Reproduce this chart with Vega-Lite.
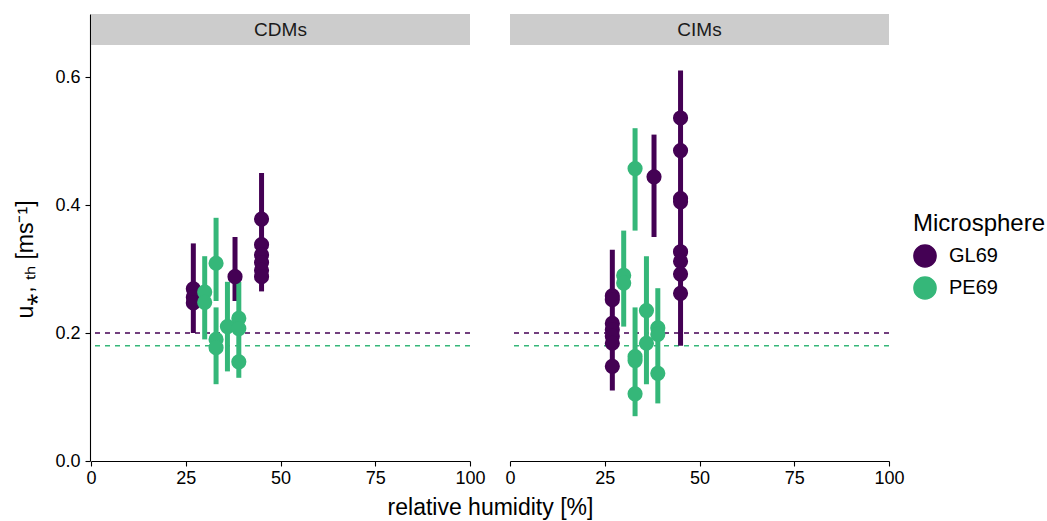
{
  "$schema": "https://vega.github.io/schema/vega-lite/v6.json",
  "background": "white",
  "padding": {"left": 14, "top": 14, "right": 0, "bottom": 0},
  "title": {"text": "relative humidity [%]", "orient": "bottom", "anchor": "middle", "fontSize": 23, "fontWeight": "normal", "font": "Liberation Sans", "color": "#000000", "offset": 10, "dx": -40},
  "datasets": {
    "all": [
      {"kind": "strip", "panel": "CDMs"},
      {"kind": "strip", "panel": "CIMs"},
      {"kind": "thr", "panel": "CDMs", "ms": "GL69", "u": 0.2},
      {"kind": "thr", "panel": "CDMs", "ms": "PE69", "u": 0.18},
      {"kind": "thr", "panel": "CIMs", "ms": "GL69", "u": 0.2},
      {"kind": "thr", "panel": "CIMs", "ms": "PE69", "u": 0.18},

      {"kind": "bar", "panel": "CDMs", "ms": "GL69", "rh": 27, "lo": 0.20, "hi": 0.34},
      {"kind": "bar", "panel": "CDMs", "ms": "GL69", "rh": 38, "lo": 0.25, "hi": 0.35},
      {"kind": "bar", "panel": "CDMs", "ms": "GL69", "rh": 45, "lo": 0.265, "hi": 0.45},
      {"kind": "bar", "panel": "CDMs", "ms": "PE69", "rh": 30, "lo": 0.19, "hi": 0.32},
      {"kind": "bar", "panel": "CDMs", "ms": "PE69", "rh": 33, "lo": 0.25, "hi": 0.38},
      {"kind": "bar", "panel": "CDMs", "ms": "PE69", "rh": 33, "lo": 0.12, "hi": 0.24},
      {"kind": "bar", "panel": "CDMs", "ms": "PE69", "rh": 36, "lo": 0.14, "hi": 0.28},
      {"kind": "bar", "panel": "CDMs", "ms": "PE69", "rh": 39, "lo": 0.13, "hi": 0.28},

      {"kind": "bar", "panel": "CIMs", "ms": "GL69", "rh": 27, "lo": 0.11, "hi": 0.33},
      {"kind": "bar", "panel": "CIMs", "ms": "GL69", "rh": 38, "lo": 0.35, "hi": 0.51},
      {"kind": "bar", "panel": "CIMs", "ms": "GL69", "rh": 45, "lo": 0.18, "hi": 0.61},
      {"kind": "bar", "panel": "CIMs", "ms": "PE69", "rh": 30, "lo": 0.21, "hi": 0.36},
      {"kind": "bar", "panel": "CIMs", "ms": "PE69", "rh": 33, "lo": 0.36, "hi": 0.52},
      {"kind": "bar", "panel": "CIMs", "ms": "PE69", "rh": 33, "lo": 0.07, "hi": 0.24},
      {"kind": "bar", "panel": "CIMs", "ms": "PE69", "rh": 36, "lo": 0.12, "hi": 0.32},
      {"kind": "bar", "panel": "CIMs", "ms": "PE69", "rh": 39, "lo": 0.09, "hi": 0.27},

      {"kind": "pt", "panel": "CDMs", "ms": "GL69", "rh": 27, "u": 0.269},
      {"kind": "pt", "panel": "CDMs", "ms": "GL69", "rh": 27, "u": 0.256},
      {"kind": "pt", "panel": "CDMs", "ms": "GL69", "rh": 27, "u": 0.247},
      {"kind": "pt", "panel": "CDMs", "ms": "GL69", "rh": 38, "u": 0.288},
      {"kind": "pt", "panel": "CDMs", "ms": "GL69", "rh": 45, "u": 0.378},
      {"kind": "pt", "panel": "CDMs", "ms": "GL69", "rh": 45, "u": 0.338},
      {"kind": "pt", "panel": "CDMs", "ms": "GL69", "rh": 45, "u": 0.322},
      {"kind": "pt", "panel": "CDMs", "ms": "GL69", "rh": 45, "u": 0.31},
      {"kind": "pt", "panel": "CDMs", "ms": "GL69", "rh": 45, "u": 0.298},
      {"kind": "pt", "panel": "CDMs", "ms": "GL69", "rh": 45, "u": 0.288},
      {"kind": "pt", "panel": "CDMs", "ms": "PE69", "rh": 30, "u": 0.264},
      {"kind": "pt", "panel": "CDMs", "ms": "PE69", "rh": 30, "u": 0.248},
      {"kind": "pt", "panel": "CDMs", "ms": "PE69", "rh": 33, "u": 0.309},
      {"kind": "pt", "panel": "CDMs", "ms": "PE69", "rh": 33, "u": 0.19},
      {"kind": "pt", "panel": "CDMs", "ms": "PE69", "rh": 33, "u": 0.177},
      {"kind": "pt", "panel": "CDMs", "ms": "PE69", "rh": 36, "u": 0.21},
      {"kind": "pt", "panel": "CDMs", "ms": "PE69", "rh": 39, "u": 0.223},
      {"kind": "pt", "panel": "CDMs", "ms": "PE69", "rh": 39, "u": 0.207},
      {"kind": "pt", "panel": "CDMs", "ms": "PE69", "rh": 39, "u": 0.155},

      {"kind": "pt", "panel": "CIMs", "ms": "GL69", "rh": 27, "u": 0.258},
      {"kind": "pt", "panel": "CIMs", "ms": "GL69", "rh": 27, "u": 0.252},
      {"kind": "pt", "panel": "CIMs", "ms": "GL69", "rh": 27, "u": 0.215},
      {"kind": "pt", "panel": "CIMs", "ms": "GL69", "rh": 27, "u": 0.205},
      {"kind": "pt", "panel": "CIMs", "ms": "GL69", "rh": 27, "u": 0.195},
      {"kind": "pt", "panel": "CIMs", "ms": "GL69", "rh": 27, "u": 0.184},
      {"kind": "pt", "panel": "CIMs", "ms": "GL69", "rh": 27, "u": 0.148},
      {"kind": "pt", "panel": "CIMs", "ms": "GL69", "rh": 38, "u": 0.444},
      {"kind": "pt", "panel": "CIMs", "ms": "GL69", "rh": 45, "u": 0.536},
      {"kind": "pt", "panel": "CIMs", "ms": "GL69", "rh": 45, "u": 0.485},
      {"kind": "pt", "panel": "CIMs", "ms": "GL69", "rh": 45, "u": 0.41},
      {"kind": "pt", "panel": "CIMs", "ms": "GL69", "rh": 45, "u": 0.405},
      {"kind": "pt", "panel": "CIMs", "ms": "GL69", "rh": 45, "u": 0.327},
      {"kind": "pt", "panel": "CIMs", "ms": "GL69", "rh": 45, "u": 0.312},
      {"kind": "pt", "panel": "CIMs", "ms": "GL69", "rh": 45, "u": 0.292},
      {"kind": "pt", "panel": "CIMs", "ms": "GL69", "rh": 45, "u": 0.262},
      {"kind": "pt", "panel": "CIMs", "ms": "PE69", "rh": 30, "u": 0.29},
      {"kind": "pt", "panel": "CIMs", "ms": "PE69", "rh": 30, "u": 0.278},
      {"kind": "pt", "panel": "CIMs", "ms": "PE69", "rh": 33, "u": 0.457},
      {"kind": "pt", "panel": "CIMs", "ms": "PE69", "rh": 33, "u": 0.163},
      {"kind": "pt", "panel": "CIMs", "ms": "PE69", "rh": 33, "u": 0.157},
      {"kind": "pt", "panel": "CIMs", "ms": "PE69", "rh": 33, "u": 0.105},
      {"kind": "pt", "panel": "CIMs", "ms": "PE69", "rh": 36, "u": 0.235},
      {"kind": "pt", "panel": "CIMs", "ms": "PE69", "rh": 36, "u": 0.184},
      {"kind": "pt", "panel": "CIMs", "ms": "PE69", "rh": 39, "u": 0.208},
      {"kind": "pt", "panel": "CIMs", "ms": "PE69", "rh": 39, "u": 0.198},
      {"kind": "pt", "panel": "CIMs", "ms": "PE69", "rh": 39, "u": 0.137}
    ]
  },
  "data": {"name": "all"},
  "facet": {
    "column": {"field": "panel", "type": "nominal", "sort": ["CDMs", "CIMs"], "header": {"title": null, "labels": false}}
  },
  "spacing": 38,
  "spec": {
    "width": 379,
    "height": 447,
    "layer": [
      {
        "transform": [{"filter": "datum.kind === 'pt'"}],
        "mark": {"type": "point", "filled": true, "opacity": 0, "size": 230},
        "encoding": {
          "x": {"field": "rh", "type": "quantitative", "scale": {"domain": [0, 100], "nice": false}, "axis": {"title": null, "values": [0, 25, 50, 75, 100], "labelFlush": false, "labelPadding": 3}},
          "y": {"field": "u", "type": "quantitative", "scale": {"domain": [0, 0.69844], "nice": false, "zero": false}, "axis": {"title": "u⁎, ₜₕ [ms⁻¹]", "titleFontSize": 23, "titlePadding": 17, "titleY": 245, "labelPadding": 5, "values": [0, 0.2, 0.4, 0.6], "format": ".1f"}},
          "color": {"field": "ms", "type": "nominal", "scale": {"domain": ["GL69", "PE69"], "range": ["#440154", "#35B779"]}, "legend": {"title": "Microsphere", "orient": "none", "legendX": 822, "legendY": 198, "symbolType": "circle", "symbolSize": 490, "symbolOpacity": 1, "labelFontSize": 20, "titleFontSize": 24, "titleFontWeight": "normal", "rowPadding": 2, "titlePadding": 8, "labelOffset": 12}}
        }
      },
      {
        "transform": [{"filter": "datum.kind === 'thr'"}],
        "mark": {"type": "rule", "strokeDash": [5, 5], "strokeWidth": 1.4},
        "encoding": {
          "y": {"field": "u", "type": "quantitative"},
          "color": {"field": "ms", "type": "nominal"}
        }
      },
      {
        "transform": [{"filter": "datum.kind === 'bar'"}],
        "mark": {"type": "rule", "strokeWidth": 5},
        "encoding": {
          "x": {"field": "rh", "type": "quantitative"},
          "y": {"field": "lo", "type": "quantitative"},
          "y2": {"field": "hi"},
          "color": {"field": "ms", "type": "nominal"}
        }
      },
      {
        "transform": [{"filter": "datum.kind === 'pt'"}],
        "mark": {"type": "point", "filled": true, "opacity": 1, "size": 230},
        "encoding": {
          "x": {"field": "rh", "type": "quantitative"},
          "y": {"field": "u", "type": "quantitative"},
          "color": {"field": "ms", "type": "nominal"}
        }
      },
      {
        "transform": [{"filter": "datum.kind === 'strip'"}],
        "mark": {"type": "rect", "fill": "#CCCCCC"},
        "encoding": {
          "x": {"datum": 0, "type": "quantitative"},
          "x2": {"datum": 100},
          "y": {"datum": 0.65, "type": "quantitative"},
          "y2": {"datum": 0.69844}
        }
      },
      {
        "transform": [{"filter": "datum.kind === 'strip'"}],
        "mark": {"type": "text", "fontSize": 19, "color": "#1A1A1A", "font": "Liberation Sans"},
        "encoding": {
          "x": {"datum": 50, "type": "quantitative"},
          "y": {"datum": 0.6742, "type": "quantitative"},
          "text": {"field": "panel"}
        }
      }
    ]
  },
  "config": {
    "font": "Liberation Sans",
    "view": {"stroke": null},
    "axis": {
      "grid": false,
      "domainColor": "#000000",
      "domainWidth": 1.1,
      "tickColor": "#000000",
      "tickWidth": 1.1,
      "tickSize": 5,
      "labelColor": "#000000",
      "labelFont": "Liberation Sans",
      "labelFontSize": 18,
      "titleFont": "Liberation Sans",
      "titleFontSize": 23,
      "titleFontWeight": "normal",
      "titleColor": "#000000"
    },
    "legend": {
      "labelFont": "Liberation Sans",
      "titleFont": "Liberation Sans",
      "labelColor": "#000000",
      "titleColor": "#000000"
    }
  }
}
